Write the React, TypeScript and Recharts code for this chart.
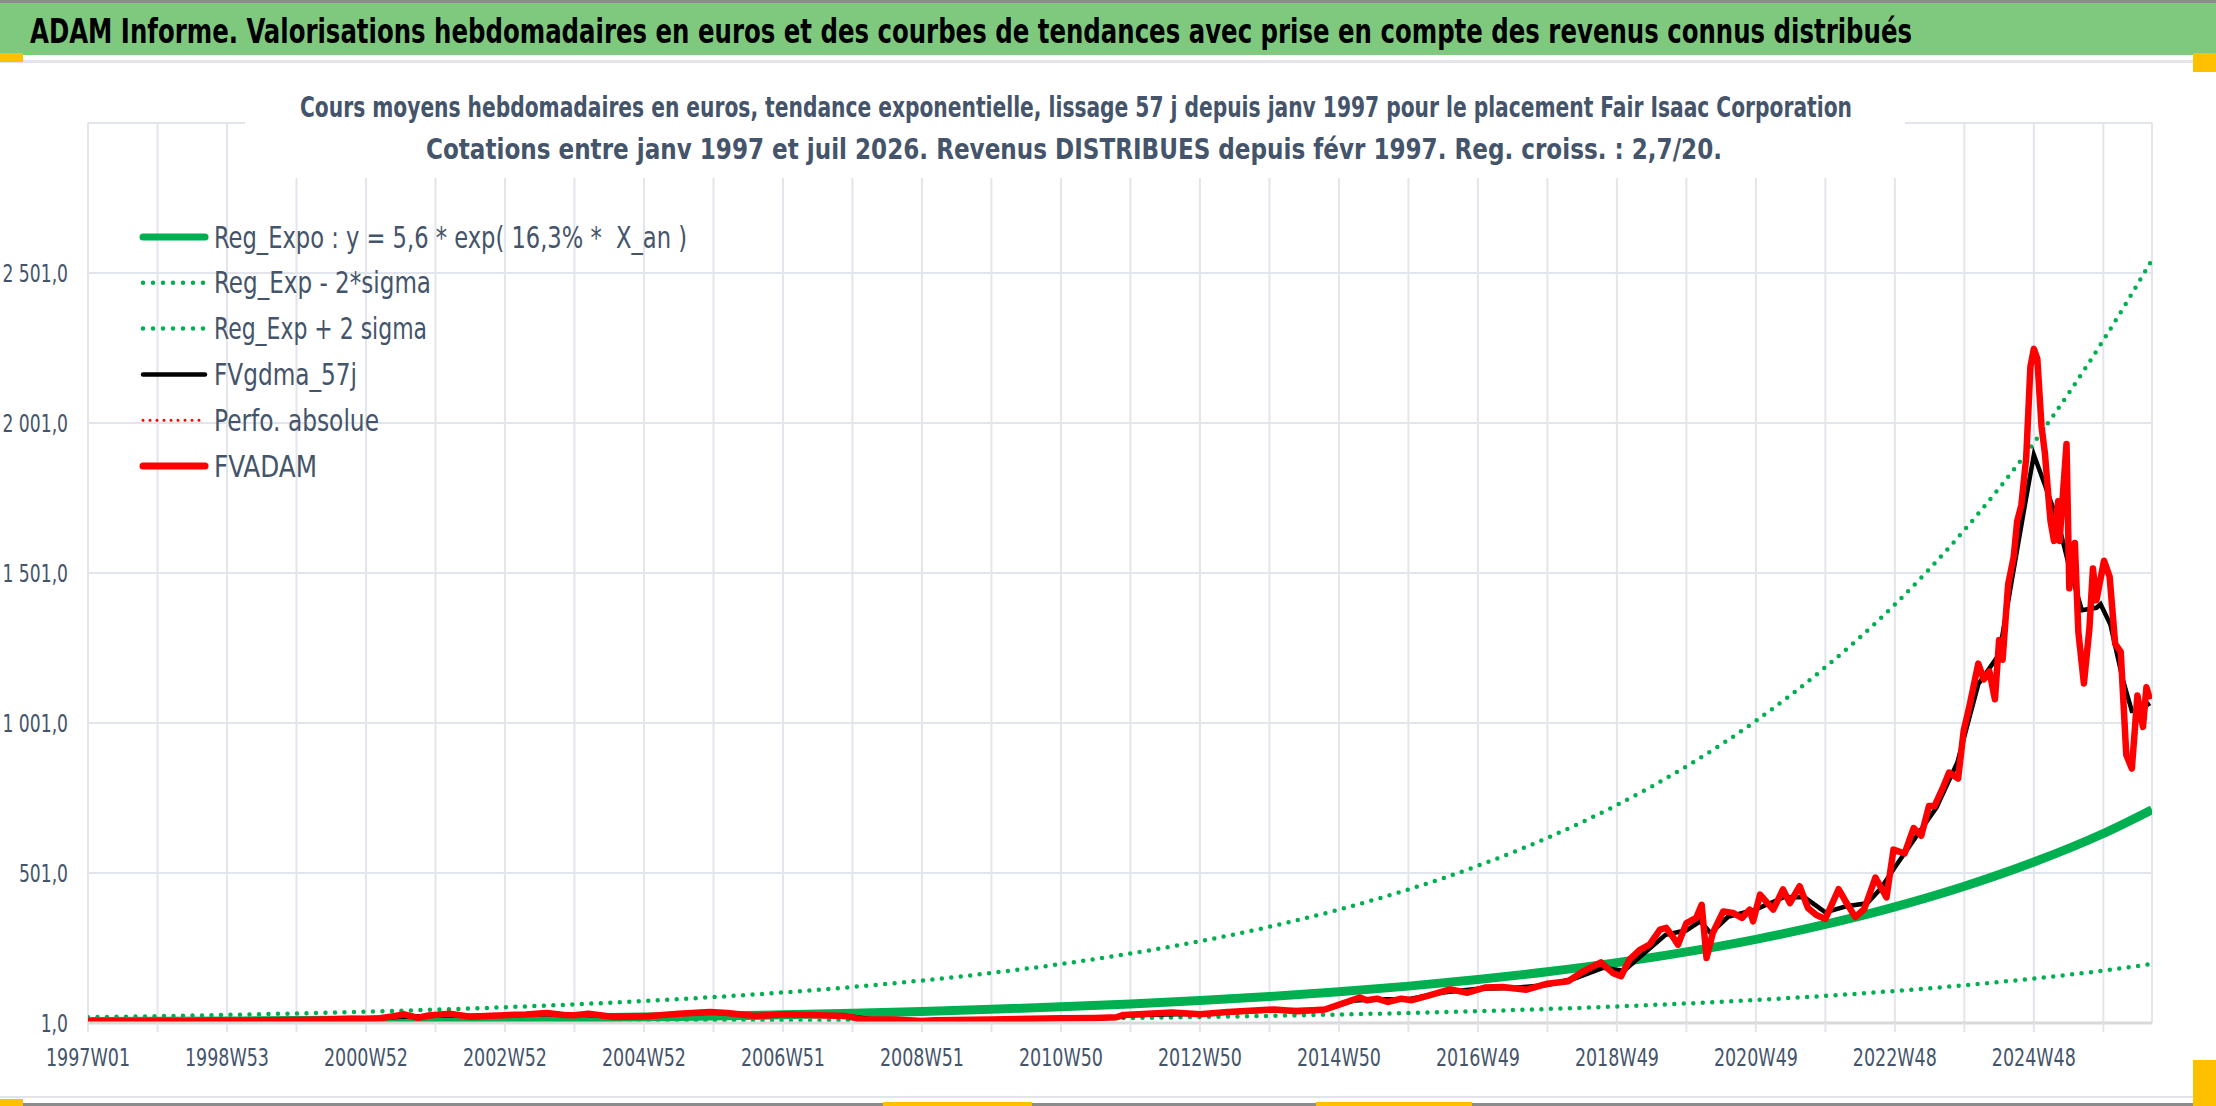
import React from 'react';
import { LineChart, Line, XAxis, YAxis, CartesianGrid, Legend } from 'recharts';

const W = 2216;
const H = 1106;
const FONT = '"Liberation Sans Narrow", "Arial Narrow", "DejaVu Sans Condensed", "Roboto Condensed", "Liberation Sans", sans-serif';
const TEXT = '#44546A';

// ---------- data ----------
const xTicks = [0, 1, 2, 3, 4, 5, 6, 7, 8, 9, 10, 11, 12, 13, 14, 15, 16, 17, 18, 19, 20, 21, 22, 23, 24, 25, 26, 27, 28, 29];
const xTickLabels = ['1997W01', '1998W53', '2000W52', '2002W52', '2004W52', '2006W51', '2008W51', '2010W50', '2012W50', '2014W50', '2016W49', '2018W49', '2020W49', '2022W48', '2024W48'];
const yTicks = [1, 501, 1001, 1501, 2001, 2501];
const yTickLabels = ['1,0', '501,0', '1 001,0', '1 501,0', '2 001,0', '2 501,0'];

const regYears = [0, 1, 2, 3, 4, 5, 6, 7, 8, 9, 10, 11, 12, 13, 14, 15, 16, 17, 18, 19, 20, 21, 22, 23, 24, 25, 26, 27, 28, 29, 29.7];
const regExpo = [5.6, 6.6, 7.8, 9.1, 10.8, 12.7, 14.9, 17.5, 20.6, 24.3, 28.6, 33.6, 39.6, 46.6, 54.9, 64.6, 76.0, 89.4, 105.3, 123.9, 145.9, 171.7, 202.1, 237.9, 280.0, 329.6, 387.9, 456.6, 537.4, 632.6, 712];
const regMinus = [1.6, 1.8, 2.2, 2.5, 3.0, 3.5, 4.1, 4.9, 5.7, 6.7, 7.9, 9.3, 11.0, 12.9, 15.2, 17.9, 21.1, 24.8, 29.2, 34.4, 40.5, 47.7, 56.1, 66.1, 77.8, 91.6, 107.8, 126.8, 149.3, 175.7, 198];
const regPlus = [20.2, 23.7, 27.9, 32.9, 38.7, 45.5, 53.6, 63.1, 74.3, 87.4, 102.9, 121.1, 142.6, 167.8, 197.5, 232.5, 273.6, 321.8, 379.1, 446.0, 525.2, 618.1, 727.6, 856.4, 1008, 1187, 1396, 1644, 1935, 2277, 2545];

const fvgdma57j: [number, number][] = [
  [0, 7], [2, 9], [3, 11], [4, 14], [4.5, 22], [5, 25], [5.5, 25], [6, 27], [6.5, 31], [7, 29], [7.5, 24], [8, 24],
  [8.5, 31], [9, 36], [9.5, 27], [10, 29], [10.5, 27], [11, 22], [11.3, 13], [12, 10], [13, 13], [14, 17], [14.8, 20],
  [15, 27], [16, 32], [17, 43], [17.8, 46], [18.2, 75], [18.5, 80], [19, 80], [19.5, 103], [20, 115], [20.5, 118],
  [21, 128], [21.4, 150], [21.8, 185], [22.1, 175], [22.4, 235], [22.7, 295], [23, 310], [23.2, 340], [23.35, 300],
  [23.6, 355], [24, 380], [24.4, 420], [24.7, 420], [25, 370], [25.3, 390], [25.6, 400], [25.8, 450], [26, 520],
  [26.3, 620], [26.6, 720], [26.9, 870], [27.2, 1130], [27.5, 1230], [27.7, 1500], [27.85, 1700], [28, 1895],
  [28.15, 1800], [28.35, 1670], [28.5, 1530], [28.69, 1377], [28.9, 1385], [28.96, 1397], [29.1, 1330], [29.28, 1146],
  [29.41, 1041], [29.5, 1041], [29.67, 1067],
];

const fvadam: [number, number][] = [
  [0, 7], [0.3, 8], [0.6, 7], [1, 8], [1.4, 7], [1.8, 9], [2.2, 9], [2.6, 10], [3, 11], [3.4, 13], [3.8, 15], [4, 14],
  [4.2, 17], [4.4, 24], [4.55, 30], [4.75, 18], [4.9, 26], [5.2, 32], [5.5, 22], [5.8, 25], [6, 27], [6.3, 29], [6.6, 34],
  [6.85, 28], [7.0, 27], [7.2, 32], [7.57, 21], [8, 23], [8.5, 32], [8.95, 38], [9.2, 34], [9.6, 24], [10, 30], [10.5, 27],
  [10.9, 24], [11.15, 13], [11.6, 13], [12, 8], [12.2, 10], [13, 13], [14, 17], [14.5, 18], [14.8, 20], [14.9, 28],
  [15.6, 36], [16, 30], [16.4, 38], [17.07, 46], [17.4, 40], [17.8, 46], [17.9, 54], [18.3, 86], [18.4, 77], [18.55, 82],
  [18.7, 71], [18.9, 82], [19.05, 77], [19.3, 93], [19.6, 113], [19.85, 102], [20.1, 119], [20.35, 121], [20.7, 112],
  [21, 132], [21.3, 140], [21.5, 171], [21.77, 203], [21.94, 168], [22.06, 157], [22.18, 212], [22.33, 245], [22.47, 262],
  [22.62, 312], [22.71, 318], [22.8, 290], [22.88, 262], [23, 334], [23.14, 351], [23.22, 395], [23.29, 218], [23.38, 301],
  [23.53, 373], [23.67, 368], [23.8, 351], [23.91, 379], [23.96, 340], [24.06, 429], [24.25, 379], [24.39, 446],
  [24.49, 401], [24.63, 457], [24.75, 384], [24.87, 361], [25.0, 348], [25.19, 447], [25.29, 407], [25.43, 354],
  [25.56, 381], [25.72, 486], [25.88, 420], [25.98, 579], [26.14, 566], [26.27, 651], [26.38, 625], [26.49, 724],
  [26.57, 724], [26.7, 790], [26.78, 836], [26.91, 816], [26.99, 975], [27.07, 1054], [27.2, 1199], [27.28, 1146],
  [27.36, 1173], [27.44, 1080], [27.5, 1278], [27.55, 1212], [27.63, 1463], [27.71, 1555], [27.76, 1674], [27.82, 1727],
  [27.89, 1885], [27.95, 2188], [28.0, 2248], [28.05, 2215], [28.11, 1990], [28.16, 1898], [28.21, 1753], [28.24, 1674],
  [28.29, 1608], [28.35, 1740], [28.37, 1608], [28.47, 1931], [28.51, 1450], [28.59, 1601], [28.64, 1305], [28.72, 1133],
  [28.8, 1318], [28.85, 1516], [28.9, 1410], [29.01, 1542], [29.09, 1489], [29.17, 1265], [29.25, 1238], [29.33, 895],
  [29.41, 849], [29.49, 1093], [29.57, 988], [29.62, 1120], [29.67, 1080],
];

const headerTitle = 'ADAM Informe. Valorisations hebdomadaires en euros et des courbes de tendances avec prise en compte des revenus connus distribués';
const subTitle1 = 'Cours moyens hebdomadaires en euros, tendance exponentielle, lissage 57 j depuis janv 1997 pour le placement Fair Isaac Corporation';
const subTitle2 = 'Cotations entre janv 1997 et juil 2026. Revenus DISTRIBUES depuis févr 1997. Reg. croiss. : 2,7/20.';

const legendNames = ['Reg_Expo : y = 5,6 * exp( 16,3% *  X_an )', 'Reg_Exp - 2*sigma', 'Reg_Exp + 2 sigma', 'FVgdma_57j', 'Perfo. absolue', 'FVADAM'];

// ---------- derived tables ----------
const toRows = (xs: number[], ys: number[]) => xs.map((x, i) => ({ x, y: ys[i] }));
const pairRows = (pts: [number, number][]) => pts.map(([x, y]) => ({ x, y }));
const regExpoRows = toRows(regYears, regExpo);
const regMinusRows = toRows(regYears, regMinus);
const regPlusRows = toRows(regYears, regPlus);
const fvgdmaRows = pairRows(fvgdma57j);
const fvadamRows = pairRows(fvadam);

// ---------- styles ----------
const GREEN = '#00B050';
const RED = '#FF0000';
const legendStyles = [
  { color: GREEN, sw: 7, dash: undefined as string | undefined, len: 473 },
  { color: GREEN, sw: 4.5, dash: '0 10', len: 217 },
  { color: GREEN, sw: 4.5, dash: '0 10', len: 213 },
  { color: '#000000', sw: 4.5, dash: undefined, len: 143 },
  { color: RED, sw: 3, dash: '0 7', len: 165 },
  { color: RED, sw: 7, dash: undefined, len: 103 },
];

// narrow-font advance widths (px at 24px) used to condense tick text
const glyphWidth = (ch: string) => (ch === 'W' ? 18.6 : ch === ' ' || ch === ',' ? 5.5 : 10.9);
const tickTextWidth = (s: string) => s.split('').reduce((a, c) => a + glyphWidth(c), 0);

const LegendBox = () => (
  <svg width={640} height={290} style={{ display: 'block', overflow: 'visible' }}>
    {legendNames.map((name, i) => {
      const st = legendStyles[i];
      const cy = 22 + i * 45.8;
      return (
        <g key={name}>
          <line x1={4} x2={66} y1={cy} y2={cy} stroke={st.color} strokeWidth={st.sw} strokeDasharray={st.dash} strokeLinecap="round" />
          <text x={75} y={cy + 10.5} fontSize={30} fill={TEXT} fontFamily={FONT} textLength={st.len} lengthAdjust="spacingAndGlyphs" xmlSpace="preserve">
            {name}
          </text>
        </g>
      );
    })}
  </svg>
);

const XTick = (props: any) => {
  const { x, y, payload } = props;
  const k = payload.value as number;
  if (k % 2 !== 0) return <g />;
  const label = xTickLabels[k / 2];
  return (
    <text x={x} y={y + 34} textAnchor="middle" fontSize={24} fill={TEXT} fontFamily={FONT} textLength={tickTextWidth(label)} lengthAdjust="spacingAndGlyphs">
      {label}
    </text>
  );
};

const YTick = (props: any) => {
  const { x, y, payload } = props;
  const i = yTicks.indexOf(payload.value);
  const label = yTickLabels[i];
  return (
    <text x={x} y={y + 8.5} textAnchor="end" fontSize={24} fill={TEXT} fontFamily={FONT} textLength={tickTextWidth(label)} lengthAdjust="spacingAndGlyphs" xmlSpace="preserve">
      {label}
    </text>
  );
};

// text condensed to a target width, then stretched vertically to the reference glyph height
const FitText = ({ x, y, size, sy, len, anchor, weight, fill, children }: any) => (
  <g transform={`translate(${x},${y}) scale(1,${sy})`}>
    <text x={0} y={0} textAnchor={anchor} fontSize={size} fontWeight={weight} fill={fill} fontFamily={FONT} textLength={len} lengthAdjust="spacingAndGlyphs">
      {children}
    </text>
  </g>
);

export default function App() {
  return (
    <div style={{ position: 'absolute', left: 0, top: 0, width: W, height: H, background: '#ffffff', overflow: 'hidden' }}>
      <div style={{ position: 'absolute', left: 0, top: 0 }}>
        <LineChart width={W} height={H} margin={{ top: 123, right: 64, bottom: 33, left: 8 }}>
          <CartesianGrid stroke="#E2E5EB" strokeWidth={2} />
          <XAxis
            dataKey="x"
            type="number"
            domain={[0, 29.7]}
            ticks={xTicks}
            interval={0}
            allowDataOverflow
            height={50}
            tickSize={9}
            tickMargin={0}
            tickLine={{ stroke: '#E2E5EB', strokeWidth: 2 }}
            axisLine={{ stroke: '#D9D9D9', strokeWidth: 3 }}
            tick={<XTick />}
          />
          <YAxis
            type="number"
            domain={[1, 3001]}
            ticks={yTicks}
            interval={0}
            allowDataOverflow
            width={80}
            tickSize={0}
            tickMargin={20}
            tickLine={false}
            axisLine={false}
            tick={<YTick />}
          />
          <Legend
            layout="horizontal"
            align="center"
            verticalAlign="middle"
            wrapperStyle={{ left: 139, top: 215, width: 640, height: 290 }}
            content={() => <LegendBox />}
          />
          <Line data={regExpoRows} dataKey="y" name={legendNames[0]} type="monotone" stroke={GREEN} strokeWidth={9} dot={false} activeDot={false} isAnimationActive={false} />
          <Line data={regMinusRows} dataKey="y" name={legendNames[1]} type="monotone" stroke={GREEN} strokeWidth={4.5} strokeDasharray="0 9.5" strokeLinecap="round" dot={false} activeDot={false} isAnimationActive={false} />
          <Line data={regPlusRows} dataKey="y" name={legendNames[2]} type="monotone" stroke={GREEN} strokeWidth={4.5} strokeDasharray="0 9.5" strokeLinecap="round" dot={false} activeDot={false} isAnimationActive={false} />
          <Line data={fvgdmaRows} dataKey="y" name={legendNames[3]} type="linear" stroke="#000000" strokeWidth={4.5} dot={false} activeDot={false} isAnimationActive={false} />
          <Line data={fvadamRows} dataKey="y" name={legendNames[5]} type="linear" stroke={RED} strokeWidth={6.5} strokeLinejoin="round" dot={false} activeDot={false} isAnimationActive={false} />
        </LineChart>
      </div>
      <svg width={W} height={H} style={{ position: 'absolute', left: 0, top: 0, pointerEvents: 'none' }}>
        <rect x={0} y={0} width={W} height={3} fill="#8C8C8C" />
        <rect x={0} y={3} width={W} height={52} fill="#7FC97F" />
        <FitText x={30} y={43} size={26} sy={1.27} len={1882} anchor="start" weight={700} fill="#000000">
          {headerTitle}
        </FitText>
        <rect x={0} y={60} width={W} height={3} fill="#E3E4E9" />
        <rect x={245} y={63} width={1660} height={115} fill="#ffffff" />
        <FitText x={1076} y={117} size={21} sy={1.33} len={1552} anchor="middle" weight={700} fill={TEXT}>
          {subTitle1}
        </FitText>
        <FitText x={1074} y={159} size={22} sy={1.27} len={1296} anchor="middle" weight={700} fill={TEXT}>
          {subTitle2}
        </FitText>
        <rect x={0} y={1096} width={W} height={2} fill="#E3E4E9" />
        <rect x={0} y={1103} width={W} height={3} fill="#8C8C8C" />
        <rect x={0} y={53} width={23} height={9} fill="#FFC000" />
        <rect x={2193} y={53} width={23} height={19} fill="#FFC000" />
        <rect x={0} y={1099} width={23} height={7} fill="#FFC000" />
        <rect x={883} y={1102} width={149} height={4} fill="#FFC000" />
        <rect x={1316} y={1102} width={156} height={4} fill="#FFC000" />
        <rect x={2193} y={1060} width={23} height={46} fill="#FFC000" />
      </svg>
    </div>
  );
}
